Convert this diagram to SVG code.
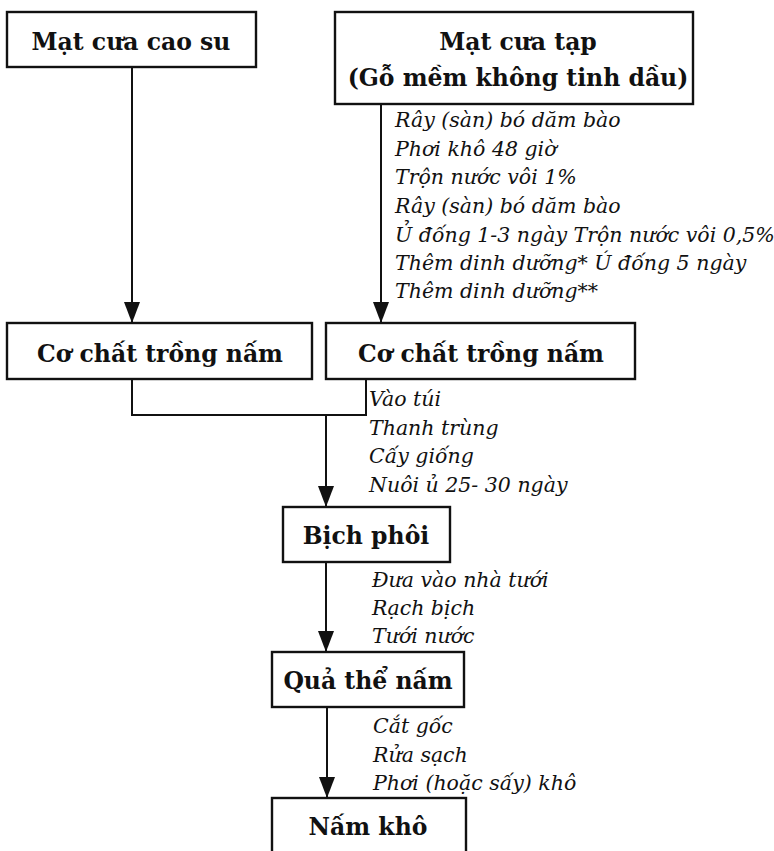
<svg xmlns="http://www.w3.org/2000/svg" width="774" height="851" viewBox="0 0 774 851">
  <style>
    .box rect { fill: #ffffff; stroke: #111111; stroke-width: 2.4; }
    .label { font-family: "DejaVu Serif", "Liberation Serif", serif; font-weight: bold; font-size: 23.5px; fill: #111111; text-anchor: middle; }
    .note { font-family: "DejaVu Serif", "Liberation Serif", serif; font-style: italic; font-size: 20.5px; fill: #111111; }
    .wire { fill: none; stroke: #111111; stroke-width: 2; }
  </style>
  <defs>
    <marker id="head" markerUnits="userSpaceOnUse" markerWidth="22" markerHeight="16" viewBox="0 0 22 16" refX="21" refY="8" orient="auto">
      <path d="M0,0 L21,8 L0,16 Z" fill="#111111"/>
    </marker>
  </defs>
  <rect width="774" height="851" fill="#ffffff"/>

  <!-- connectors -->
  <g id="connectors">
    <path class="wire" d="M132,67 V323" marker-end="url(#head)"/>
    <path class="wire" d="M381,104 V323" marker-end="url(#head)"/>
    <path class="wire" d="M132,379 V415 H366 V379"/>
    <path class="wire" d="M326,415 V507" marker-end="url(#head)"/>
    <path class="wire" d="M326,562 V652" marker-end="url(#head)"/>
    <path class="wire" d="M327,707 V798" marker-end="url(#head)"/>
  </g>

  <!-- step notes beside the connectors -->
  <g id="notes-sawdust">
    <text class="note" x="395" y="127">Rây (sàn) bó dăm bào</text>
    <text class="note" x="395" y="156">Phơi khô 48 giờ</text>
    <text class="note" x="395" y="184">Trộn nước vôi 1%</text>
    <text class="note" x="395" y="213">Rây (sàn) bó dăm bào</text>
    <text class="note" x="395" y="242">Ủ đống 1-3 ngày Trộn nước vôi 0,5%</text>
    <text class="note" x="395" y="270">Thêm dinh dưỡng* Ú đống 5 ngày</text>
    <text class="note" x="395" y="298">Thêm dinh dưỡng**</text>
  </g>
  <g id="notes-bag">
    <text class="note" x="369" y="406">Vào túi</text>
    <text class="note" x="369" y="435">Thanh trùng</text>
    <text class="note" x="369" y="463">Cấy giống</text>
    <text class="note" x="369" y="492">Nuôi ủ 25- 30 ngày</text>
  </g>
  <g id="notes-fruiting">
    <text class="note" x="372" y="587">Đưa vào nhà tưới</text>
    <text class="note" x="372" y="615">Rạch bịch</text>
    <text class="note" x="372" y="643">Tưới nước</text>
  </g>
  <g id="notes-drying">
    <text class="note" x="373" y="733">Cắt gốc</text>
    <text class="note" x="373" y="762">Rửa sạch</text>
    <text class="note" x="373" y="790">Phơi (hoặc sấy) khô</text>
  </g>

  <!-- nodes -->
  <g id="mat-cua-cao-su" class="box">
    <rect x="7" y="12" width="249" height="55"/>
    <text class="label" x="131" y="50">Mạt cưa cao su</text>
  </g>
  <g id="mat-cua-tap" class="box">
    <rect x="335" y="12" width="358" height="92"/>
    <text class="label" x="518" y="50">Mạt cưa tạp</text>
    <text class="label" x="518" y="86">(Gỗ mềm không tinh dầu)</text>
  </g>
  <g id="co-chat-1" class="box">
    <rect x="7" y="323" width="305" height="56"/>
    <text class="label" x="160" y="362">Cơ chất trồng nấm</text>
  </g>
  <g id="co-chat-2" class="box">
    <rect x="326" y="323" width="309" height="56"/>
    <text class="label" x="481" y="362">Cơ chất trồng nấm</text>
  </g>
  <g id="bich-phoi" class="box">
    <rect x="283" y="507" width="167" height="55"/>
    <text class="label" x="366" y="544">Bịch phôi</text>
  </g>
  <g id="qua-the-nam" class="box">
    <rect x="272" y="652" width="192" height="55"/>
    <text class="label" x="368" y="689">Quả thể nấm</text>
  </g>
  <g id="nam-kho" class="box">
    <rect x="272" y="798" width="194" height="56"/>
    <text class="label" x="368" y="835">Nấm khô</text>
  </g>
</svg>
